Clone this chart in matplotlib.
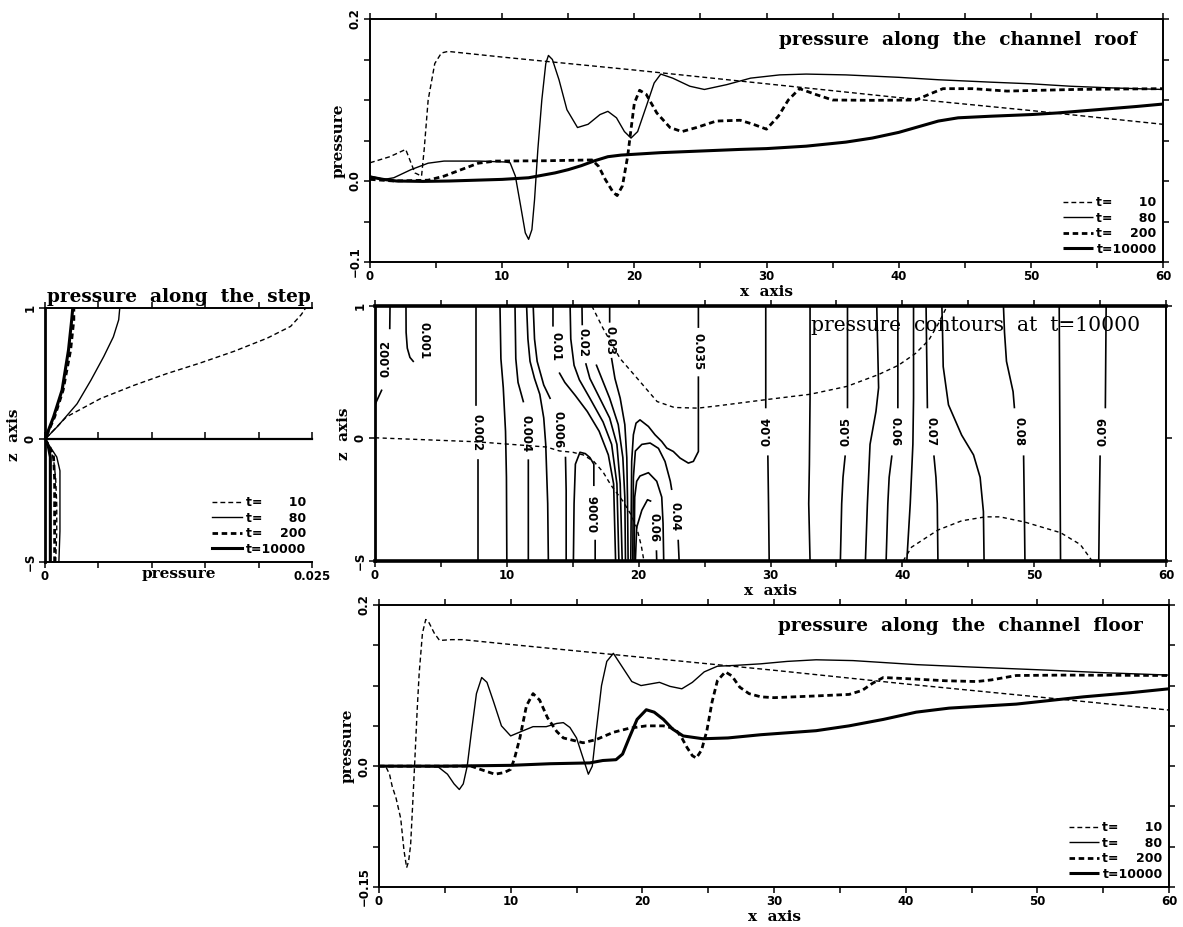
import numpy as np
import matplotlib
matplotlib.use("Agg")
import matplotlib.pyplot as plt
from matplotlib.ticker import MultipleLocator, FixedLocator

nan = np.nan
S_DEPTH = 0.935          # depth of the step (z = -S)

# ---------------- time levels ----------------
times = ["10", "80", "200", "10000"]

# ---------------- pressure along the channel roof ----------------
roof_x_t10 = [0, 1.5, 2.7, 3.4, 3.9, 4.1, 4.4, 4.9, 5.4, 5.9, 10, 20, 30, 40, 50, 60]
roof_p_t10 = [0.0225, 0.030, 0.039, 0.010, 0.006, 0.039, 0.100, 0.145, 0.158, 0.160,
              0.153, 0.137, 0.120, 0.103, 0.087, 0.070]

roof_x_t80 = [0, 1.07, 1.8, 3.1, 4.4, 5.6, 8.2, 10.2, 10.6, 11.0, 11.4, 11.75, 12.0, 12.25,
              12.45, 12.7, 13.0, 13.3, 13.5, 13.8, 14.3, 14.9, 15.7, 16.5, 17.4, 18.0, 18.65,
              19.25, 19.75, 20.25, 20.9, 21.5, 22.0, 22.9, 24.2, 25.3, 27.0, 28.8, 31.0, 33.0,
              36.0, 40.0, 43.0, 47.0, 50.0, 53.0, 56.0, 60.0]
roof_p_t80 = [0.006, 0.002, 0.004, 0.014, 0.022, 0.0246, 0.0246, 0.0235, 0.0225, 0.006, -0.031,
              -0.064, -0.072, -0.060, -0.023, 0.039, 0.100, 0.145, 0.155, 0.150, 0.125, 0.088,
              0.066, 0.070, 0.082, 0.086, 0.078, 0.061, 0.053, 0.061, 0.092, 0.121, 0.132,
              0.127, 0.117, 0.113, 0.119, 0.127, 0.131, 0.132, 0.131, 0.128, 0.125, 0.122,
              0.120, 0.117, 0.115, 0.113]

roof_x_t200 = [0, 1.8, 4.4, 5.6, 6.9, 8.2, 9.5, 13.3, 16.8, 17.3, 17.8, 18.4, 18.7, 19.1, 19.5,
               19.75, 20.0, 20.4, 20.9, 21.7, 22.7, 23.6, 24.7, 26.2, 28.0, 29.0, 30.0, 30.9,
               31.65, 32.5, 33.7, 35.0, 38.0, 41.3, 42.3, 43.35, 45.6, 48.2, 53.3, 60.0]
roof_p_t200 = [0.002, 0.0, 0.001, 0.006, 0.014, 0.022, 0.0246, 0.025, 0.026, 0.018, 0.002,
               -0.014, -0.018, -0.006, 0.031, 0.064, 0.096, 0.112, 0.107, 0.084, 0.066, 0.061,
               0.066, 0.074, 0.075, 0.070, 0.064, 0.080, 0.100, 0.114, 0.107, 0.100, 0.0996,
               0.100, 0.107, 0.114, 0.114, 0.111, 0.113, 0.114]

roof_x_t10000 = [0, 1, 2, 4, 6, 8, 10, 12, 13, 14, 15, 16, 17, 18, 19, 20, 22, 25, 28, 30, 33,
                 36, 38, 40, 41.5, 43, 44.5, 47, 50, 52, 55, 58, 60]
roof_p_t10000 = [0.005, 0.002, 0.0, -0.0005, 0.0, 0.001, 0.002, 0.004, 0.007, 0.010, 0.014,
                 0.019, 0.025, 0.030, 0.032, 0.033, 0.035, 0.037, 0.039, 0.040, 0.043, 0.048,
                 0.053, 0.060, 0.067, 0.074, 0.078, 0.080, 0.082, 0.084, 0.088, 0.092, 0.095]

# ---------------- pressure along the channel floor ----------------
floor_x_t10 = [0, 0.5, 0.8, 1.0, 1.3, 1.65, 1.9, 2.1, 2.25, 2.4, 2.55, 2.7, 2.9, 3.05, 3.3,
               3.55, 3.8, 4.2, 4.6, 5.5, 6.35, 10, 20, 30, 40, 50, 60]
floor_p_t10 = [0.0, 0.0, -0.01, -0.025, -0.04, -0.065, -0.105, -0.126, -0.118, -0.098, -0.05,
               0.0, 0.07, 0.115, 0.165, 0.182, 0.178, 0.165, 0.156, 0.157, 0.157, 0.151, 0.135,
               0.119, 0.102, 0.086, 0.0696]

floor_x_t80 = [0, 3, 4.5, 5.2, 5.7, 6.1, 6.4, 6.7, 7.0, 7.4, 7.8, 8.2, 8.7, 9.3, 10.0, 10.8,
               11.7, 12.7, 13.5, 14.0, 14.5, 15.0, 15.5, 15.9, 16.2, 16.5, 16.9, 17.3, 17.8,
               18.4, 19.2, 19.9, 20.6, 21.3, 22.1, 23.0, 23.8, 24.7, 25.7, 27.0, 29.0, 31.0,
               33.2, 36.0, 40.8, 45.0, 51.0, 55.0, 60.0]
floor_p_t80 = [0.0, 0.0, -0.001, -0.010, -0.022, -0.029, -0.022, 0.0, 0.040, 0.090, 0.110,
               0.104, 0.080, 0.050, 0.0375, 0.043, 0.049, 0.049, 0.053, 0.054, 0.048, 0.035,
               0.010, -0.010, 0.0, 0.044, 0.100, 0.130, 0.140, 0.125, 0.105, 0.100, 0.102,
               0.104, 0.099, 0.096, 0.104, 0.117, 0.124, 0.125, 0.127, 0.130, 0.132, 0.131,
               0.126, 0.123, 0.119, 0.116, 0.113]

floor_x_t200 = [0, 7.0, 7.7, 8.8, 9.5, 10.0, 10.3, 10.7, 11.2, 11.7, 12.2, 12.8, 13.5, 14.0,
                15.5, 16.5, 17.8, 19.0, 20.3, 21.6, 22.1, 22.6, 23.0, 23.4, 23.8, 24.1, 24.5,
                24.9, 25.3, 25.7, 26.3, 26.8, 27.4, 28.1, 29.0, 30.0, 33.0, 35.7, 36.7, 37.5,
                38.3, 40.8, 43.0, 45.4, 46.5, 48.4, 52.0, 60.0]
floor_p_t200 = [0.0, 0.0, -0.004, -0.010, -0.008, -0.004, 0.010, 0.035, 0.075, 0.090, 0.082,
                0.060, 0.043, 0.035, 0.029, 0.033, 0.042, 0.047, 0.050, 0.050, 0.048, 0.044,
                0.035, 0.023, 0.013, 0.010, 0.020, 0.044, 0.080, 0.106, 0.117, 0.112, 0.098,
                0.090, 0.086, 0.085, 0.087, 0.089, 0.094, 0.103, 0.110, 0.108, 0.106, 0.105,
                0.107, 0.1125, 0.113, 0.1125]

floor_x_t10000 = [0, 5, 10, 13, 16, 17, 18, 18.5, 19.0, 19.6, 20.3, 20.9, 21.6, 22.3, 23.1,
                  24.6, 26.5, 29.0, 33.2, 35.7, 38.3, 40.8, 43.3, 48.4, 53.5, 57.0, 60.0]
floor_p_t10000 = [0.0, 0.0, 0.001, 0.003, 0.004, 0.007, 0.008, 0.015, 0.035, 0.058, 0.070,
                  0.067, 0.058, 0.046, 0.0375, 0.034, 0.035, 0.039, 0.044, 0.050, 0.058, 0.067,
                  0.072, 0.077, 0.086, 0.091, 0.096]

# ---------------- pressure along the step (p vs z) ----------------
step_z_t10 = [-0.935, -0.7, -0.5, -0.3, -0.15, -0.05, 0, 0.17, 0.31, 0.41, 0.50, 0.58, 0.67,
              0.77, 0.86, 0.95, 1.0]
step_p_t10 = [0.0010, 0.0011, 0.0011, 0.0010, 0.0008, 0.0004, 0, 0.0020, 0.0052, 0.0083,
              0.0114, 0.0145, 0.0177, 0.0208, 0.0230, 0.0240, 0.0244]
step_z_t80 = [-0.935, -0.7, -0.49, -0.3, -0.24, -0.135, -0.06, 0, 0.1, 0.27, 0.45, 0.63, 0.78,
              0.91, 1.0]
step_p_t80 = [0.0013, 0.0014, 0.0014, 0.0014, 0.0014, 0.0011, 0.0005, 0, 0.0012, 0.0030,
              0.0043, 0.0055, 0.0064, 0.0069, 0.0070]
step_z_t200 = [-0.935, -0.5, -0.3, -0.135, -0.05, 0, 0.17, 0.375, 0.68, 0.91, 1.0]
step_p_t200 = [0.0009, 0.0009, 0.0009, 0.0008, 0.0004, 0, 0.0009, 0.0017, 0.0024, 0.0027,
               0.0027]
step_z_t10000 = [-0.935, -0.5, -0.135, -0.05, 0, 0.17, 0.375, 0.68, 0.91, 1.0]
step_p_t10000 = [0.0005, 0.0005, 0.0005, 0.0003, 0, 0.0008, 0.0016, 0.0022, 0.0025, 0.0026]

# ---------------- pressure contours at t=10000 (traced lines, NaN = label gap) ----------------
c0002a_x = [0.0, 0.0, 0.13, 0.5, nan, 1.12, 1.14]
c0002a_z = [-0.935, 0.25, 0.28, 0.36, nan, 0.83, 1.0]
c0001_x = [2.35, 2.36, 2.45, 2.65, 2.9]
c0001_z = [1.0, 0.8, 0.68, 0.61, 0.58]
c0002b_x = [7.66, 7.66, nan, 7.84, 7.84]
c0002b_z = [1.0, 0.25, nan, -0.17, -0.935]
c0003_x = [9.48, 9.55, 9.73, 9.9, 9.97, 10.0]
c0003_z = [1.0, 0.6, 0.38, 0.05, -0.3, -0.935]
c0004_x = [10.62, 10.68, 10.85, 11.25, nan, 11.63, 11.63]
c0004_z = [1.0, 0.6, 0.42, 0.275, nan, -0.17, -0.935]
c0005_x = [11.5, 11.6, 11.76, 12.1, 12.5, 12.8, 12.95, 13.1, 13.15]
c0005_z = [1.0, 0.75, 0.58, 0.45, 0.33, 0.15, -0.05, -0.5, -0.935]
c0006a_x = [12.0, 12.1, 12.3, 12.8, 13.28, nan, 14.45, 14.5, 14.5]
c0006a_z = [1.0, 0.75, 0.58, 0.4, 0.3, nan, -0.15, -0.4, -0.935]
c0006b_x = [15.05, 15.1, 15.2, 15.55, 15.95, 16.3, 16.6, 16.6, nan, 16.7, 16.7]
c0006b_z = [-0.935, -0.5, -0.2, -0.11, -0.12, -0.15, -0.2, -0.36, nan, -0.78, -0.935]
c001_x = [13.5, 13.5, nan, 14.0, 14.4, 15.2, 16.1, 17.0, 17.7, 18.1, 18.25]
c001_z = [1.0, 0.85, nan, 0.49, 0.42, 0.32, 0.2, 0.05, -0.13, -0.35, -0.935]
c0015_x = [14.8, 14.85, 15.1, 15.5, 16.3, 17.3, 17.95, 18.35, 18.5]
c0015_z = [1.0, 0.75, 0.55, 0.44, 0.3, 0.12, -0.05, -0.35, -0.935]
c002_x = [15.7, 15.72, nan, 16.0, 16.3, 16.9, 17.8, 18.35, 18.6, 18.75]
c002_z = [1.0, 0.86, nan, 0.56, 0.45, 0.33, 0.15, -0.05, -0.35, -0.935]
c0025_x = [16.8, 17.2, 17.8, 18.45, 18.8, 18.95, 19.0]
c0025_z = [0.55, 0.45, 0.3, 0.1, -0.15, -0.45, -0.935]
c003_x = [17.8, 17.8, nan, 17.95, 18.2, 18.6, 18.95, 19.1, 19.15, 19.2]
c003_z = [1.0, 0.88, nan, 0.6, 0.45, 0.3, 0.1, -0.15, -0.45, -0.935]
c0035_x = [24.53, 24.53, nan, 24.53, 24.53, 24.15, 23.77, 23.14, 22.63, 22.13, 21.75, 21.24,
           20.74, 20.1, 19.8, 19.6, 19.47, 19.4]
c0035_z = [1.0, 0.84, nan, 0.46, -0.104, -0.179, -0.192, -0.154, -0.104, -0.078, -0.028,
           0.023, 0.086, 0.136, 0.111, 0.023, -0.179, -0.935]
c004a_x = [19.55, 19.6, 19.75, 20.24, 20.87, 21.5, 22.0, 22.4, 22.5, nan, 23.0, 23.07]
c004a_z = [-0.935, -0.3, -0.1, -0.05, -0.04, -0.08, -0.18, -0.33, -0.39, nan, -0.78, -0.935]
c005a_x = [19.65, 19.7, 19.85, 20.1, 20.74, 21.37, 21.75, 21.85, 21.9]
c005a_z = [-0.935, -0.45, -0.33, -0.29, -0.265, -0.33, -0.45, -0.65, -0.935]
c006a_x = [19.75, 19.85, 20.24, 20.67, 20.9, nan, 21.35, 21.37]
c006a_z = [-0.935, -0.68, -0.55, -0.47, -0.48, nan, -0.86, -0.935]
c004b_x = [29.64, 29.64, nan, 29.8, 29.85, 29.9]
c004b_z = [1.0, 0.23, nan, -0.14, -0.5, -0.935]
c0045_x = [33.0, 33.0, 32.95, 32.9, 33.0]
c0045_z = [1.0, 0.3, -0.2, -0.5, -0.935]
c005b_x = [35.84, 35.84, nan, 35.66, 35.5, 35.4, 35.3]
c005b_z = [1.0, 0.23, nan, -0.14, -0.3, -0.5, -0.935]
c0055_x = [38.06, 38.15, 38.2, 38.0, 37.55, 37.35, 37.2]
c0055_z = [1.0, 0.6, 0.38, 0.2, -0.05, -0.5, -0.935]
c006b_x = [39.66, 39.66, nan, 39.2, 39.0, 38.9, 38.77]
c006b_z = [1.0, 0.23, nan, -0.14, -0.3, -0.5, -0.935]
c0065_x = [40.85, 40.85, 40.8, 40.6, 40.34]
c0065_z = [1.0, 0.3, -0.05, -0.5, -0.935]
c007_x = [41.8, 41.9, nan, 42.4, 42.55, 42.65, 42.7]
c007_z = [1.0, 0.23, nan, -0.14, -0.3, -0.5, -0.935]
c0075_x = [43.0, 43.05, 43.1, 43.5, 44.5, 45.4, 45.9, 46.15, 46.2]
c0075_z = [1.0, 0.8, 0.54, 0.25, 0.02, -0.13, -0.3, -0.56, -0.935]
c008_x = [47.67, 47.75, 47.9, 48.4, 48.5, nan, 49.2, 49.25, 49.3]
c008_z = [1.0, 0.8, 0.58, 0.35, 0.23, nan, -0.14, -0.5, -0.935]
c0085_x = [51.9, 51.95, 52.0]
c0085_z = [1.0, 0.0, -0.935]
c009_x = [55.46, 55.4, nan, 55.0, 54.95, 54.9]
c009_z = [1.0, 0.23, nan, -0.14, -0.5, -0.935]

# contour labels: text, x, z, rotation
clab_text = ["0.002", "0.001", "0.002", "0.004", "0.006", "0.006", "0.01", "0.02", "0.03",
             "0.035", "0.04", "0.06", "0.04", "0.05", "0.06", "0.07", "0.08", "0.09"]
clab_x = [0.85, 3.75, 7.75, 11.45, 13.9, 16.65, 13.7, 15.8, 17.85, 24.53, 22.75, 21.15,
          29.72, 35.75, 39.45, 42.15, 48.85, 55.2]
clab_z = [0.6, 0.74, 0.04, 0.03, 0.06, -0.57, 0.69, 0.72, 0.74, 0.65, -0.6, -0.68,
          0.045, 0.045, 0.045, 0.045, 0.045, 0.045]
clab_rot = [90, -90, -90, -90, -90, 90, -90, -90, -90, -90, -90, -90, 90, 90, -90, -90, -90, 90]

# dashed streamlines in the contour panel
s1_x = [0, 7.65, 13.0, 14.0, 15.0, 15.8, 16.6, 17.3, 17.9, 18.8, 19.4, 19.85, 20.2, 20.4]
s1_z = [0, -0.03, -0.07, -0.1, -0.11, -0.13, -0.18, -0.26, -0.36, -0.48, -0.58, -0.68, -0.82,
        -0.935]
s2_x = [16.45, 17.3, 18.6, 19.9, 21.4, 22.7, 24.5, 26.2, 29.7, 33.0, 35.8, 38.2, 39.7, 41.0,
        42.0, 42.7, 43.4]
s2_z = [1.0, 0.83, 0.6, 0.45, 0.275, 0.23, 0.225, 0.245, 0.29, 0.33, 0.39, 0.48, 0.55, 0.64,
        0.74, 0.86, 1.0]
s3_x = [40.06, 40.7, 42.7, 44.5, 46.3, 47.4, 49.3, 52.0, 53.5, 54.4]
s3_z = [-0.935, -0.83, -0.7, -0.63, -0.6, -0.6, -0.64, -0.72, -0.81, -0.935]

# x tick labels of the three channel panels
x_major = [0, 10, 20, 30, 40, 50, 60]

# =====================================================================
W, H = 1183, 927
fig = plt.figure(figsize=(W / 100, H / 100), dpi=100)
fig.patch.set_facecolor("white")


def rect(l, t, r, b):
    return [l / W, 1 - b / H, (r - l) / W, (b - t) / H]


TICKF = dict(family="DejaVu Sans", weight="bold", size=8.5)
LABF = dict(family="DejaVu Serif", weight="bold", size=11)
TITF = dict(family="DejaVu Serif", size=13.3)
LEGF = dict(family="DejaVu Sans", weight="bold", size=9)

STY = {
    "10": dict(lw=1.0, ls=(0, (3.5, 2.2))),
    "80": dict(lw=1.0, ls="-"),
    "200": dict(lw=2.0, ls=(0, (2.0, 1.3))),
    "10000": dict(lw=2.2, ls="-"),
}


def leg_label(t):
    return "t=" + " " * (2 * (5 - len(t))) + t


def style_frame(ax, lw=1.4):
    for sp in ax.spines.values():
        sp.set_linewidth(lw)
    ax.tick_params(which="both", direction="out", length=4, width=1.1,
                   top=True, right=True, labeltop=False, labelright=False, pad=2)
    for lab in ax.get_xticklabels() + ax.get_yticklabels():
        lab.set_fontproperties(matplotlib.font_manager.FontProperties(**TICKF))


def x_axis_60(ax):
    ax.set_xlim(0, 60)
    ax.set_xticks(x_major)
    ax.set_xticklabels([str(v) for v in x_major])
    ax.xaxis.set_minor_locator(MultipleLocator(5))
    ax.set_xlabel("x  axis", labelpad=1, **LABF)


def line_panel(ax, xs, ps, ylim, yticks, ylabels, title, title_y):
    lines = []
    for t, x, p in zip(times, xs, ps):
        ln, = ax.plot(x, p, color="black", solid_capstyle="butt", **STY[t])
        lines.append(ln)
    x_axis_60(ax)
    ax.set_ylim(*ylim)
    ax.set_yticks(yticks)
    ax.set_yticklabels(ylabels, rotation=90, va="center")
    ax.yaxis.set_minor_locator(MultipleLocator(0.05))
    ax.set_ylabel("pressure", labelpad=2, **LABF)
    style_frame(ax)
    ax.text(0.967, title_y, title, transform=ax.transAxes, ha="right", va="center",
            weight="bold", **TITF)
    ax.legend(lines, [leg_label(t) for t in times], loc="lower right", frameon=False,
              prop=LEGF, handlelength=2.4, handletextpad=0.3, labelspacing=0.2,
              borderaxespad=0.3, borderpad=0.2)


# ---------------- roof panel ----------------
ax_roof = fig.add_axes(rect(370, 19, 1163, 262))
line_panel(ax_roof,
           [roof_x_t10, roof_x_t80, roof_x_t200, roof_x_t10000],
           [roof_p_t10, roof_p_t80, roof_p_t200, roof_p_t10000],
           (-0.1, 0.2), [-0.1, 0.0, 0.2], ["\u22120.1", "0.0", "0.2"],
           "pressure  along  the  channel  roof", 0.914)

# ---------------- floor panel ----------------
ax_floor = fig.add_axes(rect(379, 605, 1169, 887))
line_panel(ax_floor,
           [floor_x_t10, floor_x_t80, floor_x_t200, floor_x_t10000],
           [floor_p_t10, floor_p_t80, floor_p_t200, floor_p_t10000],
           (-0.15, 0.2), [-0.15, 0.0, 0.2], ["\u22120.15", "0.0", "0.2"],
           "pressure  along  the  channel  floor", 0.925)

# ---------------- contour panel ----------------
ax_c = fig.add_axes(rect(375, 306, 1166, 561))
contours = [(c0002a_x, c0002a_z), (c0001_x, c0001_z), (c0002b_x, c0002b_z),
            (c0003_x, c0003_z), (c0004_x, c0004_z), (c0005_x, c0005_z),
            (c0006a_x, c0006a_z), (c0006b_x, c0006b_z), (c001_x, c001_z),
            (c0015_x, c0015_z), (c002_x, c002_z), (c0025_x, c0025_z), (c003_x, c003_z),
            (c0035_x, c0035_z), (c004a_x, c004a_z), (c005a_x, c005a_z), (c006a_x, c006a_z),
            (c004b_x, c004b_z), (c0045_x, c0045_z), (c005b_x, c005b_z), (c0055_x, c0055_z),
            (c006b_x, c006b_z), (c0065_x, c0065_z), (c007_x, c007_z), (c0075_x, c0075_z),
            (c008_x, c008_z), (c0085_x, c0085_z), (c009_x, c009_z)]
for cx, cz in contours:
    ax_c.plot(cx, cz, color="black", lw=1.2)
for txt, lx, lz, rot in zip(clab_text, clab_x, clab_z, clab_rot):
    ax_c.text(lx, lz, txt, rotation=rot, ha="center", va="center",
              rotation_mode="anchor", **TICKF)
for sx, sz in [(s1_x, s1_z), (s2_x, s2_z), (s3_x, s3_z)]:
    ax_c.plot(sx, sz, color="black", lw=1.0, ls=(0, (3.0, 2.5)))
x_axis_60(ax_c)
ax_c.set_ylim(-S_DEPTH, 1)
ax_c.set_yticks([-S_DEPTH, 0, 1])
ax_c.set_yticklabels(["\u2212S", "0", "1"], rotation=90, va="center")
ax_c.set_ylabel("z  axis", labelpad=2, **LABF)
style_frame(ax_c)
ax_c.spines["top"].set_linewidth(2.6)
ax_c.spines["bottom"].set_linewidth(2.6)
ax_c.spines["left"].set_linewidth(2.0)
ax_c.text(0.967, 0.925, "pressure  contours  at  t=10000", transform=ax_c.transAxes,
          ha="right", va="center", family="DejaVu Serif", size=14.6)

# ---------------- step panel ----------------
ax_s = fig.add_axes(rect(45, 308, 312, 562))
slines = []
for t, p, z in zip(times, [step_p_t10, step_p_t80, step_p_t200, step_p_t10000],
                   [step_z_t10, step_z_t80, step_z_t200, step_z_t10000]):
    ln, = ax_s.plot(p, z, color="black", **STY[t])
    slines.append(ln)
ax_s.set_xlim(0, 0.025)
ax_s.set_ylim(-S_DEPTH, 1)
ax_s.set_xticks([0, 0.025])
ax_s.set_xticklabels(["0", "0.025"])
ax_s.xaxis.set_minor_locator(MultipleLocator(0.005))
ax_s.set_yticks([-S_DEPTH, 0, 1])
ax_s.set_yticklabels(["\u2212S", "0", "1"], rotation=90, va="center")
ax_s.set_ylabel("z  axis", labelpad=2, **LABF)
style_frame(ax_s)
ax_s.tick_params(which="both", right=False)
ax_s.spines["right"].set_visible(False)
ax_s.spines["left"].set_linewidth(2.0)
ax_s.text(0.5, -0.018, "pressure", transform=ax_s.transAxes, ha="center", va="top", **LABF)
ax_s.set_title("pressure  along  the  step", pad=4, weight="bold", **TITF)
sec = ax_s.secondary_xaxis(S_DEPTH / (1 + S_DEPTH))
sec.set_xticks(np.arange(0, 0.02501, 0.005))
sec.tick_params(direction="in", length=5, width=1.1, labelbottom=False, labeltop=False)
for sp in sec.spines.values():
    sp.set_linewidth(1.6)
ax_s.legend(slines, [leg_label(t) for t in times], loc="lower right", frameon=False,
            prop=LEGF, handlelength=2.4, handletextpad=0.3, labelspacing=0.2,
            borderaxespad=0.3, borderpad=0.2)

fig.savefig("out.png", dpi=100, facecolor="white")
